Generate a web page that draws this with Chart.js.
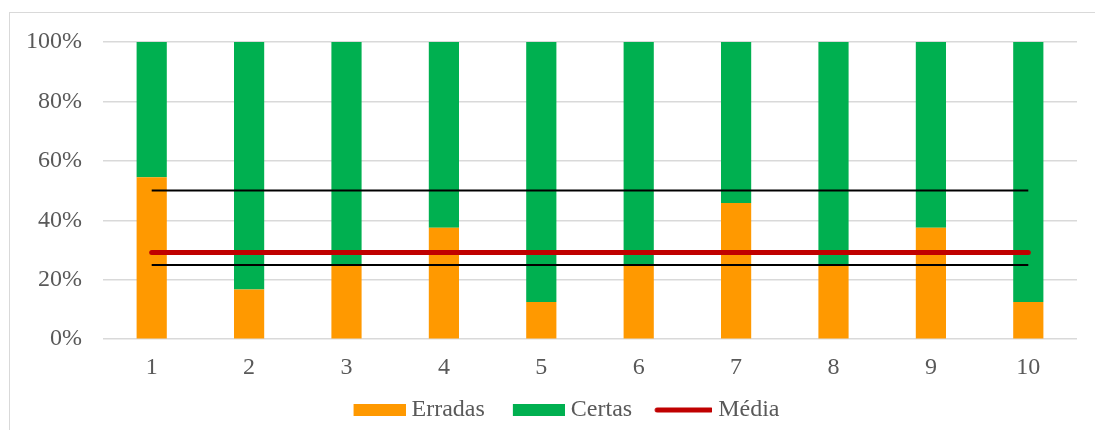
<!DOCTYPE html>
<html>
<head>
<meta charset="utf-8">
<script src="https://cdn.jsdelivr.net/npm/chart.js@4"></script>
<style>
    html, body { margin: 0; padding: 0; background: #ffffff; }
    #wrap { position: relative; width: 1095px; height: 430px; }
    #frame {
        position: absolute; left: 9px; top: 12px; width: 1090px; height: 430px;
        border-left: 1px solid #d9d9d9; border-top: 1px solid #d9d9d9;
    }
    #chart { position: absolute; left: 0; top: 0; }
</style>
</head>
<body>
<div id="wrap">
    <div id="frame"></div>
    <canvas id="chart" width="1095" height="430"></canvas>
</div>
<script>
// 資料
const categories = ['1', '2', '3', '4', '5', '6', '7', '8', '9', '10'];
const erradas = [54.5, 16.7, 25, 37.5, 12.5, 25, 45.8, 25, 37.5, 12.5];
const certas = [45.5, 83.3, 75, 62.5, 87.5, 75, 54.2, 75, 62.5, 87.5];
const media = [29.2, 29.2, 29.2, 29.2, 29.2, 29.2, 29.2, 29.2, 29.2, 29.2];
const limiteSup = [50, 50, 50, 50, 50, 50, 50, 50, 50, 50];
const limiteInf = [25, 25, 25, 25, 25, 25, 25, 25, 25, 25];
const yTicks = [0, 20, 40, 60, 80, 100];

const textColor = '#595959';
const gridColor = '#d9d9d9';
const fontFamily = '"Liberation Serif", "Times New Roman", serif';

// 圖例符號 (左邊留白當作間距)
function makeSwatch(color, isLine) {
    const c = document.createElement('canvas');
    c.width = 84;
    c.height = 12;
    const ctx = c.getContext('2d');
    if (isLine) {
        ctx.strokeStyle = color;
        ctx.lineWidth = 5;
        ctx.lineCap = 'round';
        ctx.beginPath();
        ctx.moveTo(29, 6);
        ctx.lineTo(83, 6);
        ctx.stroke();
    } else {
        ctx.fillStyle = color;
        ctx.fillRect(32, 0, 52, 12);
    }
    return c;
}

const swatches = {
    'Erradas': makeSwatch('#ff9900', false),
    'Certas': makeSwatch('#00b050', false),
    'Média': makeSwatch('#c00000', true)
};

// 圖例往右移
const legendShift = {
    id: 'legendShift',
    afterLayout: function(chart) {
        chart.legend.left += 15;
        chart.legend.right += 15;
    }
};

new Chart(document.getElementById('chart'), {
    type: 'bar',
    plugins: [legendShift],
    data: {
        labels: categories,
        datasets: [
            {
                type: 'line',
                label: 'Média',
                data: media,
                stack: 'media',
                borderColor: '#c00000',
                backgroundColor: '#c00000',
                borderWidth: 5,
                borderCapStyle: 'round',
                pointRadius: 0,
                order: 0
            },
            {
                type: 'line',
                label: 'sup',
                data: limiteSup,
                stack: 'sup',
                borderColor: '#000000',
                borderWidth: 2,
                pointRadius: 0,
                order: 0
            },
            {
                type: 'line',
                label: 'inf',
                data: limiteInf,
                stack: 'inf',
                borderColor: '#000000',
                borderWidth: 2,
                pointRadius: 0,
                order: 0
            },
            {
                label: 'Erradas',
                data: erradas,
                stack: 'barras',
                backgroundColor: '#ff9900',
                barPercentage: 0.31,
                categoryPercentage: 1,
                order: 1
            },
            {
                label: 'Certas',
                data: certas,
                stack: 'barras',
                backgroundColor: '#00b050',
                barPercentage: 0.31,
                categoryPercentage: 1,
                order: 1
            }
        ]
    },
    options: {
        responsive: false,
        animation: false,
        layout: {
            padding: { top: 42, right: 18, bottom: -2, left: 0 }
        },
        plugins: {
            tooltip: { enabled: false },
            legend: {
                position: 'bottom',
                labels: {
                    color: textColor,
                    font: { family: fontFamily, size: 24 },
                    usePointStyle: true,
                    pointStyleWidth: 72,
                    padding: 2,
                    generateLabels: function(chart) {
                        return ['Erradas', 'Certas', 'Média'].map(name => {
                            const idx = chart.data.datasets.findIndex(d => d.label === name);
                            return {
                                text: name,
                                datasetIndex: idx,
                                pointStyle: swatches[name],
                                fillStyle: 'transparent',
                                strokeStyle: 'transparent',
                                lineWidth: 0,
                                fontColor: textColor,
                                hidden: false
                            };
                        });
                    }
                }
            }
        },
        scales: {
            x: {
                stacked: true,
                grid: { display: false, drawTicks: false },
                border: { display: false },
                ticks: {
                    color: textColor,
                    font: { family: fontFamily, size: 24 },
                    padding: 14
                }
            },
            y: {
                stacked: true,
                min: 0,
                max: 100,
                afterFit: function(scale) { scale.width = 103; },
                afterBuildTicks: function(scale) {
                    scale.ticks = yTicks.map(v => ({ value: v }));
                },
                grid: { color: gridColor, lineWidth: 1.5, drawTicks: false },
                border: { display: false },
                ticks: {
                    color: textColor,
                    font: { family: fontFamily, size: 24 },
                    padding: 21,
                    callback: v => v + '%'
                }
            }
        }
    }
});
</script>
</body>
</html>
